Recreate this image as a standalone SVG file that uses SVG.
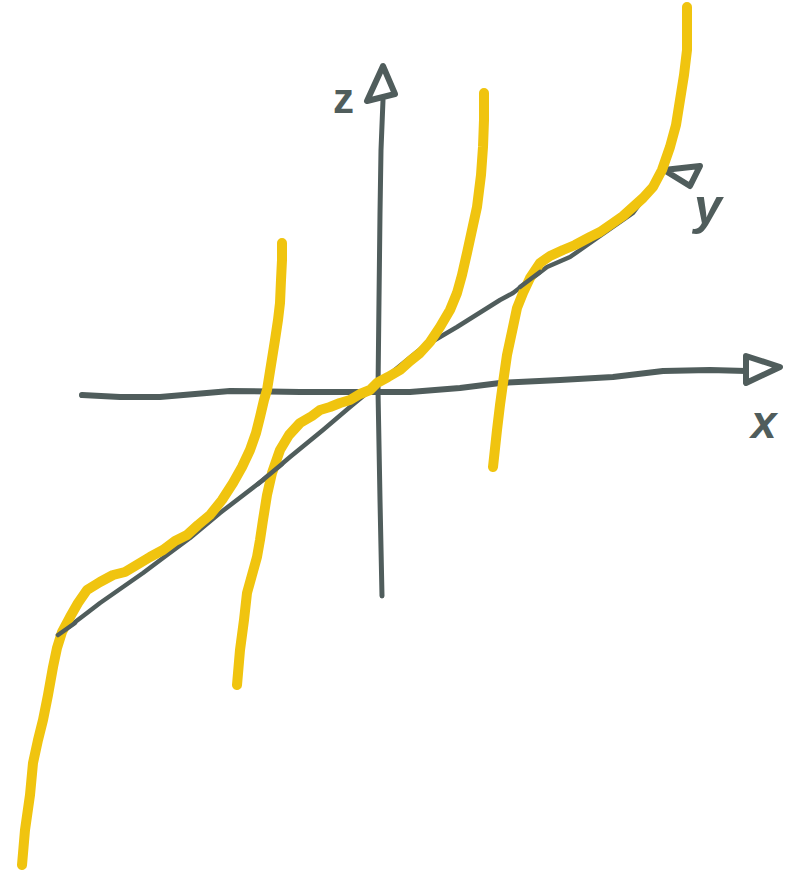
<svg xmlns="http://www.w3.org/2000/svg" width="812" height="872" viewBox="0 0 812 872">
<style>
.ax{fill:none;stroke:#505d5c;stroke-linecap:round;stroke-linejoin:round}
.cv{fill:none;stroke:#f0c40f;stroke-width:10;stroke-linecap:round;stroke-linejoin:round}
.lbl{font-family:"Liberation Sans","DejaVu Sans",sans-serif;font-weight:bold;fill:#505d5c}
</style>
<rect width="812" height="872" fill="#ffffff"/>
<g id="axes">
  <g id="x-axis">
    <polyline class="ax" stroke-width="6" points="82,395 120,397 160,397 230,391 300,392 410,392 460,388 500,383 560,380 613,377 663,371 710,370 746,371"/>
    <polygon class="ax" stroke-width="6" points="746,356 780,367 746,383"/>
    <text class="lbl" x="751" y="438" font-size="46" font-style="italic">x</text>
  </g>
  <g id="z-axis">
    <polyline class="ax" stroke-width="5" points="382,596 380,500 378,390 379,300 380,213 381,150 383,100"/>
    <polygon class="ax" stroke-width="6" points="383,66 367,101 395,94"/>
    <text class="lbl" x="333" y="113" font-size="42">z</text>
  </g>
  <g id="y-axis">
    <polyline class="ax" stroke-width="4.5" points="58,635 87,613 100,603 143,573 163,558 190,538 220,513 263,480 290,457 323,430 350,407 385,378 423,347 457,327 500,300 513,293 547,267 570,257 600,236 633,213 665,170"/>
    <polygon class="ax" stroke-width="6" points="664,170 700,166 690,186"/>
    <text class="lbl" x="694" y="224" font-size="50" font-style="italic">y</text>
  </g>
</g>
<g id="curves">
  <polyline id="curve-a" class="cv" points="22,865 25,830 30,795 33,763 38,740 43,720 48,695 53,667 57,648 62,632 70,617 78,603 87,590 100,582 113,575 125,572 140,563 150,557 163,550 175,541 187,535 198,525 210,515 222,500 233,483 242,467 250,450 256,433 260,417 264,400 267,390 271,365 275,340 278,320 280,303 281,280 282,260 282,243"/>
  <polyline id="curve-b" class="cv" points="237,685 240,650 244,620 247,593 252,575 257,557 260,540 263,520 267,495 272,473 280,450 289,435 300,423 312,416 320,410 330,407 340,403 350,400 360,394 370,390 377,383 388,377 400,370 410,361 420,353 430,342 440,327 450,310 457,293 462,275 467,253 472,230 477,207 481,175 483,147 484,120 484,93"/>
  <polyline id="curve-c" class="cv" points="493,467 497,430 500,405 503,383 507,355 513,327 517,308 523,293 530,278 540,263 550,256 563,250 575,245 590,237 600,232 613,223 623,216 633,207 643,198 653,187 662,170 670,147 676,125 680,100 684,75 687,50 687,30 687,7"/>
</g>
<g id="axis-overlays">
  <polyline class="ax" stroke-width="4.5" points="58,635 75,623"/>
  <polyline class="ax" stroke-width="4.5" points="258,484 282,464"/>
  <polyline class="ax" stroke-width="4.5" points="520,287 540,272"/>
</g>
</svg>
